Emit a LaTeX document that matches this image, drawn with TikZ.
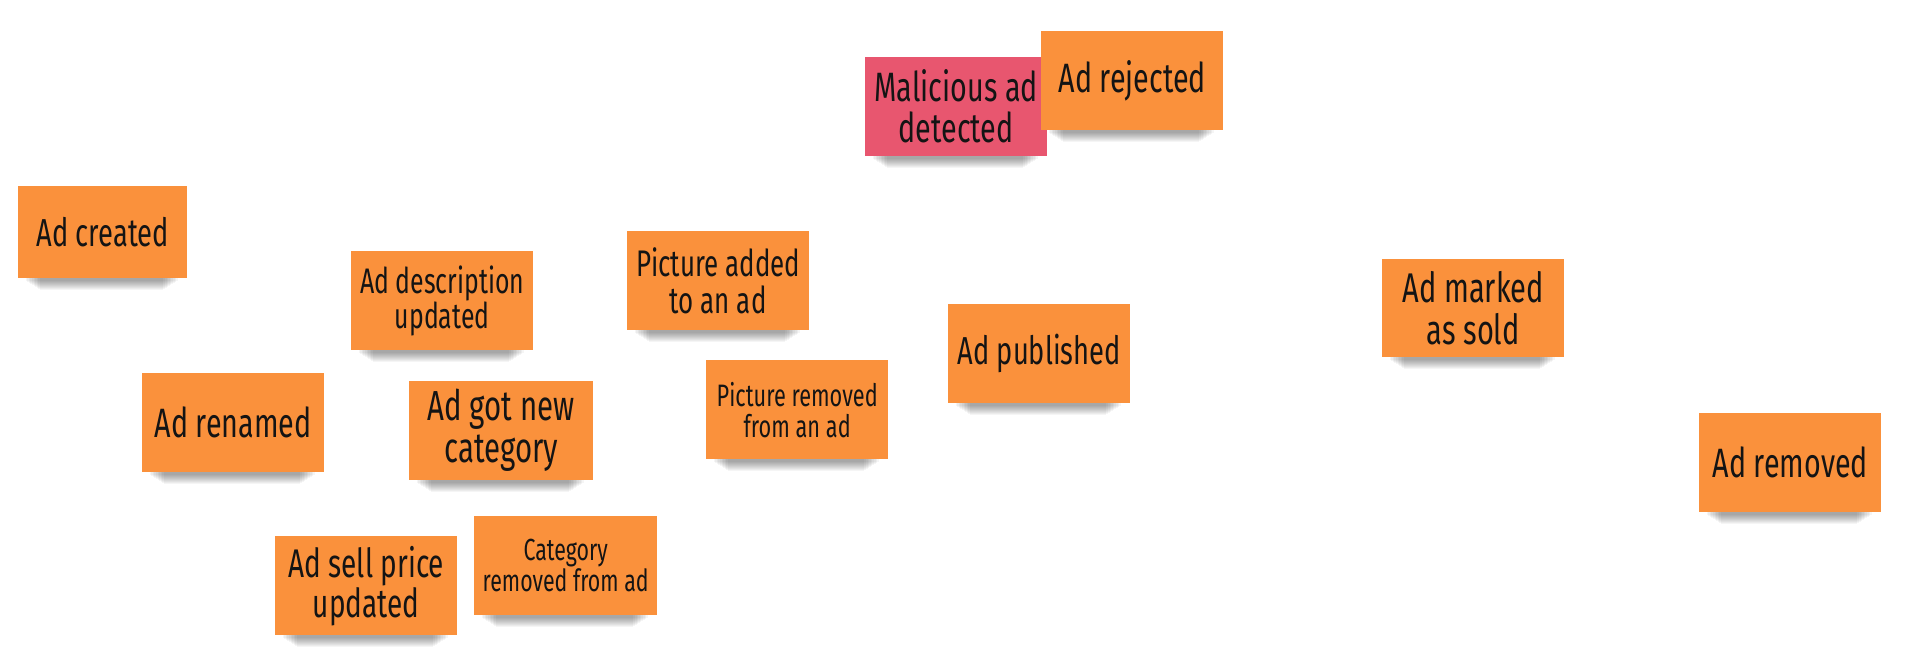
\documentclass[tikz,border=0pt]{standalone}
\usepackage{fontspec}
\setmainfont{Fira Sans}[FakeStretch=0.7]
\usetikzlibrary{backgrounds}
\definecolor{noteorange}{HTML}{FA913C}
\definecolor{notepink}{HTML}{E8566F}
\definecolor{notetext}{HTML}{141414}
\tikzset{
  note/.style={fill=noteorange, draw=none, text=notetext, align=center,
    anchor=north west, minimum width=182pt, minimum height=99pt, inner sep=3pt},
  pinknote/.style={note, fill=notepink},
  fs/.style={font=\fontsize{#1}{#1}\selectfont},
}
\newcommand{\noteshadow}[1]{%
  \foreach \k in {1,...,10}{%
    \fill[black, opacity=0.04]
      ([xshift={6pt+1.6pt*\k}, yshift=2pt]#1.south west) rectangle
      ([xshift={-8pt-1.6pt*\k}, yshift={-1pt-1.1pt*\k}]#1.south east);
  }%
}
\begin{document}
\begin{tikzpicture}[x=1pt, y=-1pt]
\useasboundingbox (0,0) rectangle (1905,664);
\node[note, fs=39, minimum width=169pt, minimum height=92pt] (created) at (18,186) {Ad created};
\node[pinknote, fs=41] (malicious) at (865,57) {Malicious ad\\detected};
\node[note, fs=41] (rejected) at (1041,31) {Ad rejected};
\node[note, fs=35.5] (description) at (351,251) {Ad description\\updated};
\node[note, fs=37] (picadded) at (627,231) {Picture added\\to an ad};
\node[note, fs=39] (published) at (948,304) {Ad published};
\node[note, fs=41.5, minimum height=98pt] (sold) at (1382,259) {Ad marked\\as sold};
\node[note, fs=41] (renamed) at (142,373) {Ad renamed};
\node[note, fs=42, minimum width=184pt] (newcat) at (409,381) {Ad got new\\category};
\node[note, fs=31] (picremoved) at (706,360) {Picture removed\\from an ad};
\node[note, fs=41] (removed) at (1699,413) {Ad removed};
\node[note, fs=40] (price) at (275,536) {Ad sell price\\updated};
\node[note, fs=30.5, minimum width=183pt] (catremoved) at (474,516) {Category\\removed from ad};
\begin{scope}[on background layer]
\fill[white] (0,0) rectangle (1905,664);
\foreach \n in {created,malicious,rejected,description,picadded,published,sold,renamed,newcat,picremoved,removed,price,catremoved}{\noteshadow{\n}}
\end{scope}
\end{tikzpicture}
\end{document}
